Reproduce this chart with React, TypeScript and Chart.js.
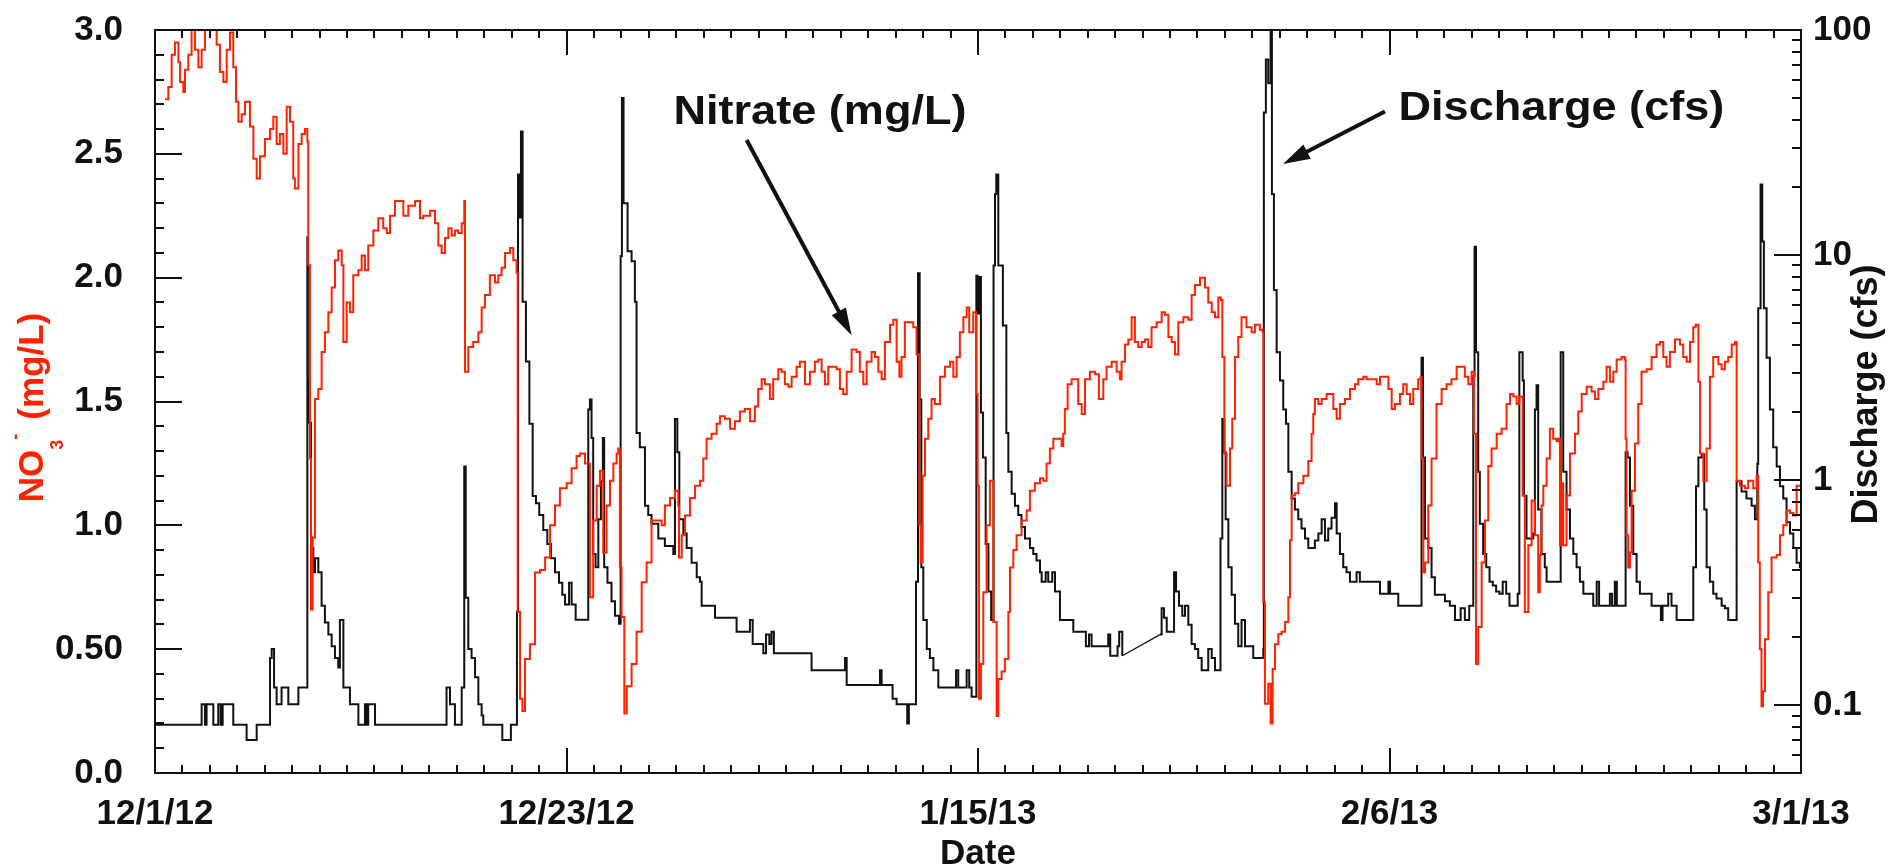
import React, { useEffect, useRef } from 'react';
import { Chart, registerables } from 'chart.js';

Chart.register(...registerables);

const FONT = "'Liberation Sans', Arial, Helvetica, sans-serif";
const RED = '#ff2200';
const INK = '#111111';

// x axis: days since 12/1/12
const X_TICK_DAYS = [0, 22.5, 45, 67.5, 90];
const X_TICK_LABELS = ['12/1/12', '12/23/12', '1/15/13', '2/6/13', '3/1/13'];
const NO3_TICK_VALUES = [0, 0.5, 1, 1.5, 2, 2.5, 3];
const NO3_TICK_LABELS = ['0.0', '0.50', '1.0', '1.5', '2.0', '2.5', '3.0'];
const Q_TICK_VALUES = [0.1, 1, 10, 100];
const Q_TICK_LABELS = ['0.1', '1', '10', '100'];

// Nitrate (mg/L): [day, value]
const nitrate: [number, number][] = [
  [0.55,2.72],[0.73,2.77],[0.91,2.90],[1.09,2.95],[1.28,2.87],[1.37,2.79],[1.55,2.75],[1.64,2.84],[1.82,2.90],[2.00,3.00],
  [2.19,2.92],[2.37,2.85],[2.55,2.92],[2.73,3.01],[2.92,3.03],[3.19,3.02],[3.37,2.94],[3.55,2.83],[3.74,2.79],[3.92,2.92],
  [4.10,2.99],[4.28,2.85],[4.43,2.71],[4.56,2.63],[4.74,2.66],[4.92,2.71],[5.19,2.61],[5.38,2.48],[5.56,2.40],[5.74,2.49],
  [6.01,2.56],[6.29,2.60],[6.47,2.65],[6.65,2.54],[6.83,2.58],[7.02,2.50],[7.20,2.69],[7.38,2.63],[7.56,2.40],[7.65,2.36],
  [7.84,2.54],[8.02,2.58],[8.20,2.60],[8.33,2.55],[8.38,2.05],[8.47,1.27],[8.53,0.66],[8.62,0.95],[8.75,1.51],[8.93,1.55],
  [9.11,1.70],[9.29,1.78],[9.48,1.86],[9.66,1.96],[9.84,2.07],[10.02,2.11],[10.21,2.05],[10.30,1.74],[10.48,1.90],[10.66,1.86],
  [10.84,2.01],[11.12,2.03],[11.30,2.09],[11.48,2.03],[11.66,2.13],[11.94,2.19],[12.21,2.24],[12.48,2.20],[12.67,2.18],[12.85,2.25],
  [13.12,2.31],[13.40,2.31],[13.58,2.25],[13.85,2.29],[14.22,2.31],[14.49,2.24],[14.67,2.25],[15.04,2.27],[15.31,2.22],[15.49,2.13],
  [15.67,2.10],[15.86,2.16],[16.04,2.20],[16.22,2.17],[16.40,2.19],[16.58,2.18],[16.77,2.22],[16.91,2.31],[16.95,1.62],[17.13,1.72],
  [17.40,1.74],[17.68,1.78],[17.86,1.88],[18.04,1.93],[18.31,2.01],[18.59,1.98],[18.77,2.01],[18.95,2.04],[19.14,2.10],[19.41,2.12],
  [19.59,2.07],[19.77,2.02],[19.83,0.65],[19.96,0.30],[20.09,0.25],[20.23,0.46],[20.50,0.52],[20.78,0.81],[21.05,0.82],[21.33,0.87],
  [21.60,1.00],[21.87,1.08],[22.14,1.15],[22.51,1.17],[22.78,1.23],[23.05,1.28],[23.23,1.29],[23.51,1.25],[23.69,1.25],[23.78,0.71],
  [23.96,1.02],[24.15,1.16],[24.33,1.22],[24.51,0.89],[24.69,1.08],[24.88,1.18],[25.06,1.25],[25.24,1.29],[25.33,1.31],[25.42,0.83],
  [25.51,0.63],[25.66,0.24],[25.79,0.35],[26.06,0.44],[26.33,0.57],[26.61,0.77],[26.88,0.85],[27.15,1.02],[27.43,1.02],[27.70,1.00],
  [27.88,1.08],[28.16,1.11],[28.43,1.14],[28.61,1.08],[28.65,0.87],[28.80,0.96],[28.98,1.04],[29.25,1.11],[29.53,1.16],[29.80,1.18],
  [29.98,1.27],[30.16,1.35],[30.43,1.37],[30.71,1.41],[30.89,1.44],[31.16,1.43],[31.44,1.39],[31.71,1.42],[31.98,1.46],[32.25,1.47],
  [32.53,1.42],[32.80,1.48],[32.98,1.55],[33.17,1.59],[33.35,1.57],[33.62,1.51],[33.80,1.59],[34.08,1.63],[34.26,1.62],[34.44,1.57],
  [34.63,1.56],[34.81,1.60],[35.08,1.64],[35.26,1.66],[35.54,1.57],[35.81,1.62],[36.08,1.66],[36.27,1.67],[36.45,1.62],[36.63,1.57],
  [36.81,1.64],[36.99,1.64],[37.27,1.63],[37.45,1.55],[37.63,1.53],[37.82,1.62],[38.09,1.71],[38.36,1.70],[38.54,1.62],[38.73,1.57],
  [38.91,1.66],[39.18,1.70],[39.37,1.68],[39.55,1.62],[39.73,1.59],[39.91,1.74],[40.19,1.81],[40.37,1.83],[40.55,1.66],[40.70,1.60],
  [40.82,1.68],[41.00,1.82],[41.28,1.82],[41.46,1.80],[41.64,1.69],[41.79,1.00],[41.86,0.85],[41.97,1.20],[42.10,1.35],[42.28,1.43],
  [42.46,1.51],[42.64,1.49],[42.92,1.60],[43.19,1.64],[43.47,1.66],[43.65,1.60],[43.83,1.68],[44.01,1.78],[44.20,1.84],[44.38,1.88],
  [44.52,1.78],[44.74,1.86],[44.89,1.53],[44.98,1.16],[45.05,0.30],[45.16,0.44],[45.29,0.73],[45.47,1.00],[45.65,1.18],[45.84,0.61],
  [46.02,0.23],[46.11,0.38],[46.29,0.41],[46.47,0.46],[46.66,0.65],[46.75,0.83],[46.93,0.90],[47.11,0.96],[47.38,1.02],[47.66,1.06],
  [47.84,1.14],[48.11,1.17],[48.39,1.19],[48.57,1.18],[48.75,1.25],[48.93,1.31],[49.12,1.35],[49.39,1.35],[49.57,1.32],[49.66,1.37],
  [49.75,1.47],[49.90,1.57],[50.12,1.59],[50.30,1.59],[50.48,1.49],[50.67,1.45],[50.85,1.59],[51.12,1.62],[51.40,1.61],[51.61,1.51],
  [51.76,1.51],[51.85,1.59],[52.03,1.64],[52.31,1.66],[52.58,1.62],[52.76,1.59],[52.85,1.66],[53.04,1.73],[53.22,1.75],[53.40,1.84],
  [53.58,1.74],[53.76,1.72],[53.95,1.74],[54.13,1.75],[54.31,1.72],[54.49,1.80],[54.77,1.82],[55.04,1.86],[55.22,1.85],[55.41,1.76],
  [55.59,1.74],[55.77,1.69],[55.95,1.82],[56.23,1.84],[56.50,1.83],[56.68,1.93],[56.86,1.97],[57.14,2.00],[57.41,1.96],[57.59,1.90],
  [57.78,1.86],[57.96,1.84],[58.14,1.92],[58.28,1.91],[58.36,1.68],[58.47,1.29],[58.59,1.16],[58.78,1.31],[58.90,1.43],[59.05,1.68],
  [59.23,1.76],[59.41,1.84],[59.68,1.80],[59.96,1.78],[60.14,1.81],[60.41,1.79],[60.56,1.78],[60.60,0.69],[60.69,0.28],[60.87,0.36],
  [61.00,0.20],[61.11,0.42],[61.24,0.52],[61.42,0.56],[61.60,0.57],[61.79,0.61],[61.97,0.71],[62.06,0.94],[62.15,1.12],[62.33,1.13],
  [62.51,1.17],[62.79,1.20],[63.06,1.26],[63.24,1.37],[63.33,1.45],[63.42,1.51],[63.61,1.49],[63.79,1.51],[64.06,1.53],[64.24,1.53],
  [64.43,1.47],[64.61,1.43],[64.79,1.49],[65.06,1.51],[65.34,1.55],[65.61,1.57],[65.79,1.59],[66.07,1.60],[66.25,1.59],[66.52,1.59],
  [66.80,1.57],[66.98,1.60],[67.25,1.60],[67.44,1.55],[67.62,1.47],[67.80,1.49],[68.07,1.53],[68.25,1.57],[68.44,1.53],[68.62,1.49],
  [68.80,1.55],[69.07,1.59],[69.20,1.60],[69.25,1.27],[69.35,0.81],[69.44,0.85],[69.62,1.08],[69.80,1.27],[70.07,1.49],[70.35,1.55],
  [70.62,1.57],[70.89,1.59],[71.17,1.64],[71.44,1.64],[71.62,1.60],[71.81,1.57],[71.99,1.62],[72.12,1.37],[72.23,0.44],[72.35,0.59],
  [72.54,0.85],[72.72,1.02],[72.90,1.24],[73.08,1.31],[73.36,1.37],[73.63,1.39],[73.90,1.49],[74.09,1.53],[74.27,1.52],[74.45,1.49],
  [74.60,1.52],[74.78,1.12],[74.90,0.65],[75.09,0.92],[75.27,1.10],[75.45,0.96],[75.63,0.73],[75.72,0.88],[75.81,1.08],[75.91,1.16],
  [76.09,1.27],[76.27,1.39],[76.45,1.35],[76.64,1.34],[76.73,1.35],[76.82,0.92],[76.91,1.17],[77.00,0.92],[77.09,0.92],[77.18,1.12],
  [77.37,1.29],[77.64,1.37],[77.82,1.46],[78.01,1.53],[78.28,1.56],[78.55,1.54],[78.74,1.51],[78.92,1.55],[79.19,1.58],[79.37,1.64],
  [79.55,1.58],[79.74,1.62],[79.92,1.67],[80.19,1.68],[80.37,1.67],[80.41,1.35],[80.46,0.96],[80.55,0.83],[80.65,0.89],[80.74,1.14],
  [80.92,1.33],[81.10,1.49],[81.28,1.62],[81.56,1.63],[81.83,1.68],[82.10,1.73],[82.29,1.74],[82.47,1.68],[82.65,1.64],[82.83,1.70],
  [83.11,1.75],[83.38,1.73],[83.56,1.68],[83.75,1.66],[83.93,1.74],[84.11,1.80],[84.24,1.81],[84.39,1.58],[84.48,1.29],[84.66,1.18],
  [84.84,1.31],[85.02,1.60],[85.20,1.68],[85.48,1.65],[85.66,1.63],[85.84,1.66],[86.02,1.68],[86.21,1.73],[86.39,1.74],[86.48,1.18],
  [86.66,1.16],[86.93,1.15],[87.11,1.18],[87.39,1.15],[87.57,1.20],[87.66,0.85],[87.75,0.50],[87.84,0.27],[87.92,0.33],[88.03,0.54],
  [88.21,0.73],[88.39,0.87],[88.67,0.88],[88.85,0.96],[89.03,1.00],[89.21,1.06],[89.40,1.05],[89.58,1.04],[89.76,1.16],[90.00,1.05],
];

// Discharge (cfs): [day, value] — record before the data gap
const dischargeBeforeGap: [number, number][] = [
  [0.00,0.082],[2.55,0.101],[2.73,0.082],[2.82,0.101],[3.19,0.082],[3.46,0.101],[3.59,0.082],[3.70,0.101],[4.28,0.082],[5.01,0.070],
  [5.56,0.082],[6.29,0.162],[6.38,0.178],[6.51,0.120],[6.65,0.101],[6.92,0.120],[7.29,0.101],[7.84,0.120],[8.33,12.0],[8.36,2.8],
  [8.44,1.8],[8.53,0.56],[8.57,0.50],[8.66,0.39],[8.75,0.45],[8.93,0.39],[9.11,0.277],[9.29,0.233],[9.48,0.206],[9.66,0.183],
  [9.84,0.162],[10.02,0.147],[10.11,0.239],[10.30,0.120],[10.66,0.101],[11.12,0.082],[11.48,0.101],[11.57,0.082],[11.66,0.101],[12.03,0.082],
  [15.94,0.120],[16.13,0.101],[16.40,0.082],[16.77,0.120],[16.91,1.15],[16.99,0.30],[17.13,0.178],[17.31,0.162],[17.50,0.133],[17.68,0.101],
  [17.86,0.090],[17.95,0.082],[18.99,0.070],[19.46,0.082],[19.79,0.26],[19.85,22.8],[19.92,14.7],[20.01,35.4],[20.10,6.2],[20.28,3.37],
  [20.47,1.78],[20.65,0.85],[20.83,0.79],[21.01,0.70],[21.23,0.60],[21.45,0.52],[21.65,0.45],[21.87,0.39],[22.09,0.35],[22.27,0.31],
  [22.42,0.28],[22.64,0.35],[22.78,0.28],[23.00,0.24],[23.69,2.06],[23.78,2.28],[23.87,1.54],[23.96,0.47],[24.09,0.41],[24.24,0.67],
  [24.38,0.99],[24.49,1.54],[24.56,0.41],[24.74,0.35],[24.96,0.29],[25.15,0.25],[25.37,0.23],[25.46,9.9],[25.53,49.9],[25.62,17.0],
  [25.84,10.4],[26.06,9.4],[26.24,6.2],[26.33,1.62],[26.51,1.40],[26.79,0.77],[26.97,0.70],[27.15,0.64],[27.52,0.55],[27.88,0.51],
  [28.34,0.47],[28.43,1.87],[28.56,1.33],[28.67,0.67],[28.89,0.58],[29.07,0.50],[29.34,0.43],[29.62,0.37],[29.80,0.354],[29.89,0.277],
  [30.62,0.245],[31.80,0.212],[32.53,0.239],[32.68,0.187],[33.26,0.170],[33.41,0.206],[33.59,0.187],[33.71,0.212],[33.84,0.170],[35.90,0.143],
  [37.73,0.162],[37.82,0.123],[39.64,0.143],[39.73,0.123],[40.33,0.107],[40.55,0.101],[41.13,0.083],[41.22,0.101],[41.61,0.354],[41.72,8.3],
  [41.81,2.28],[41.90,0.41],[42.01,0.239],[42.20,0.178],[42.37,0.162],[42.56,0.143],[42.83,0.120],[43.80,0.143],[43.92,0.120],[44.38,0.143],
  [44.52,0.120],[44.65,0.109],[44.91,8.1],[44.98,5.5],[45.09,8.0],[45.16,2.0],[45.27,1.26],[45.42,0.52],[45.57,0.32],[45.72,0.239],
  [45.85,9.0],[45.93,18.7],[46.00,22.8],[46.11,9.0],[46.36,4.87],[46.55,1.62],[46.66,1.09],[46.84,0.87],[47.02,0.77],[47.20,0.70],
  [47.38,0.62],[47.57,0.55],[47.84,0.50],[48.02,0.47],[48.20,0.44],[48.39,0.39],[48.48,0.354],[48.70,0.39],[48.84,0.354],[49.06,0.39],
  [49.21,0.32],[49.48,0.239],[50.21,0.212],[50.90,0.183],[51.07,0.206],[51.21,0.183],[52.12,0.206],[52.23,0.166],[52.63,0.183],[52.72,0.212],
  [52.89,0.166],
];

// straight line drawn across the missing discharge record
const dischargeGapBridge: [number, number][] = [[52.89,0.166],[54.95,0.206]];

const dischargeAfterGap: [number, number][] = [
  [54.95,0.206],[55.04,0.27],[55.17,0.245],[55.32,0.212],[55.72,0.39],[55.83,0.32],[55.99,0.277],[56.17,0.25],[56.32,0.277],[56.50,0.228],
  [56.68,0.187],[56.86,0.178],[57.04,0.162],[57.23,0.143],[57.59,0.178],[57.78,0.162],[57.96,0.143],[58.26,0.55],[58.36,1.87],[58.47,1.33],
  [58.54,0.67],[58.69,0.41],[58.87,0.31],[59.05,0.23],[59.23,0.183],[59.41,0.239],[59.60,0.183],[60.05,0.162],[60.60,0.178],[60.63,43],
  [60.74,74],[60.87,58],[61.00,100],[61.07,18.7],[61.18,7.0],[61.33,3.7],[61.51,2.77],[61.69,2.06],[61.84,1.78],[61.97,1.09],
  [62.15,0.83],[62.33,0.74],[62.51,0.67],[62.69,0.61],[62.88,0.55],[63.06,0.50],[63.42,0.54],[63.61,0.58],[63.79,0.67],[63.97,0.54],
  [64.15,0.61],[64.33,0.68],[64.52,0.79],[64.61,0.58],[64.79,0.47],[64.97,0.41],[65.15,0.39],[65.34,0.354],[65.70,0.39],[65.88,0.354],
  [66.98,0.313],[67.44,0.354],[67.53,0.313],[67.98,0.277],[69.25,3.5],[69.33,1.26],[69.44,0.55],[69.62,0.50],[69.80,0.37],[69.98,0.31],
  [70.53,0.29],[70.80,0.277],[71.08,0.239],[71.39,0.27],[71.62,0.239],[71.86,0.277],[72.08,2.9],[72.15,10.9],[72.23,3.7],[72.35,1.09],
  [72.44,0.64],[72.62,0.47],[72.79,0.41],[72.97,0.354],[73.15,0.34],[73.33,0.32],[73.51,0.313],[73.69,0.354],[73.88,0.313],[74.06,0.277],
  [74.51,0.313],[74.60,3.7],[74.78,2.77],[74.85,0.85],[74.99,0.55],[75.36,0.58],[75.45,2.06],[75.54,2.64],[75.63,0.74],[75.81,0.47],
  [75.99,0.41],[76.09,0.354],[76.86,3.7],[77.00,1.09],[77.18,0.74],[77.37,0.55],[77.55,0.47],[77.73,0.41],[77.91,0.354],[78.10,0.313],
  [78.64,0.277],[78.83,0.354],[78.96,0.277],[79.55,0.313],[79.67,0.277],[79.82,0.354],[79.93,0.277],[80.41,1.33],[80.52,1.26],[80.65,0.77],
  [80.83,0.47],[81.01,0.354],[81.19,0.313],[81.83,0.277],[82.34,0.239],[82.43,0.277],[82.74,0.313],[82.92,0.277],[83.20,0.239],[84.11,0.41],
  [84.26,0.94],[84.39,1.26],[84.57,1.30],[84.71,0.74],[84.84,0.41],[85.02,0.354],[85.20,0.313],[85.38,0.298],[85.66,0.277],[85.84,0.27],
  [86.02,0.239],[86.48,0.99],[86.75,0.89],[87.02,0.83],[87.30,0.77],[87.48,0.67],[87.61,1.18],[87.66,5.8],[87.79,20.6],[87.88,11.5],
  [87.97,5.8],[88.12,3.5],[88.30,2.06],[88.48,1.40],[88.67,1.15],[88.85,0.94],[89.03,0.83],[89.21,0.65],[89.40,0.58],[89.58,0.50],
  [89.76,0.43],[89.94,0.41],[90.00,0.41],
];

// Callout labels, anchored in data units (day, nitrate mg/L)
const CALLOUTS = [
  { text: 'Nitrate (mg/L)', day: 36.36, no3: 2.62, fromDay: 32.35, fromNo3: 2.556, toDay: 38.09, toNo3: 1.768 },
  { text: 'Discharge (cfs)', day: 76.9, no3: 2.637, fromDay: 67.25, fromNo3: 2.671, toDay: 61.68, toNo3: 2.459 },
];

const toXY = (arr: [number, number][]) => arr.map(([x, y]) => ({ x, y }));

function drawArrow(ctx: CanvasRenderingContext2D, x1: number, y1: number, x2: number, y2: number) {
  const dx = x2 - x1, dy = y2 - y1;
  const L = Math.hypot(dx, dy);
  const ux = dx / L, uy = dy / L;
  const head = 27, half = 8;
  const bx = x2 - ux * head, by = y2 - uy * head;
  ctx.lineWidth = 4;
  ctx.beginPath();
  ctx.moveTo(x1, y1);
  ctx.lineTo(bx + ux * 3, by + uy * 3);
  ctx.stroke();
  ctx.beginPath();
  ctx.moveTo(x2, y2);
  ctx.lineTo(bx - uy * half, by + ux * half);
  ctx.lineTo(bx + uy * half, by - ux * half);
  ctx.closePath();
  ctx.fill();
}

const decorPlugin = {
  id: 'decor',
  afterDatasetsDraw(chart: any) {
    const { ctx, chartArea: a, scales } = chart;
    const xs = scales.x, yl = scales.y, yr = scales.y2;
    ctx.save();
    ctx.strokeStyle = INK;
    ctx.fillStyle = INK;
    ctx.lineWidth = 2;
    ctx.lineCap = 'butt';
    // tick marks pointing inward
    ctx.beginPath();
    for (let i = 0; i <= 60; i++) {
      const px = Math.round(xs.getPixelForValue(i * 1.5));
      const len = i % 15 === 0 ? 25 : 8;
      ctx.moveTo(px, a.bottom); ctx.lineTo(px, a.bottom - len);
      ctx.moveTo(px, a.top); ctx.lineTo(px, a.top + len);
    }
    for (let i = 0; i <= 30; i++) {
      const py = Math.round(yl.getPixelForValue(i * 0.1));
      const len = i % 5 === 0 ? 27 : 9;
      ctx.moveTo(a.left, py); ctx.lineTo(a.left + len, py);
    }
    for (const dec of [0.01, 0.1, 1, 10, 100]) {
      for (let m = 1; m <= 9; m++) {
        const v = dec * m;
        if (v < 0.0501 || v > 100.01) continue;
        const py = Math.round(yr.getPixelForValue(v));
        const len = m === 1 ? 27 : 9;
        ctx.moveTo(a.right, py); ctx.lineTo(a.right - len, py);
      }
    }
    ctx.stroke();
    ctx.strokeRect(a.left, a.top, a.right - a.left, a.bottom - a.top);

    // callouts
    for (const c of CALLOUTS) {
      const tx = xs.getPixelForValue(c.day);
      const ty = yl.getPixelForValue(c.no3);
      ctx.save();
      ctx.translate(tx, ty);
      ctx.scale(1.1, 1);
      ctx.font = `bold 41px ${FONT}`;
      ctx.textAlign = 'center';
      ctx.textBaseline = 'alphabetic';
      ctx.fillText(c.text, 0, 0);
      ctx.restore();
      drawArrow(ctx, xs.getPixelForValue(c.fromDay), yl.getPixelForValue(c.fromNo3),
        xs.getPixelForValue(c.toDay), yl.getPixelForValue(c.toNo3));
    }

    // left axis title: NO3- (mg/L), red, rotated
    const cy = (a.top + a.bottom) / 2 + 6;
    ctx.save();
    ctx.translate(43, cy);
    ctx.rotate(-Math.PI / 2);
    ctx.fillStyle = RED;
    ctx.textAlign = 'left';
    ctx.textBaseline = 'alphabetic';
    const big = `bold 35px ${FONT}`;
    const small = `bold 18px ${FONT}`;
    ctx.font = big;
    const wNO = ctx.measureText('NO').width;
    const wRest = ctx.measureText('(mg/L)').width;
    ctx.font = small;
    const w3 = ctx.measureText('3').width;
    const wM = ctx.measureText('-').width;
    const gap = 14;
    const total = wNO + w3 + wM + gap + wRest;
    let x = -total / 2;
    ctx.font = big;
    ctx.fillText('NO', x, 0);
    x += wNO;
    ctx.font = small;
    ctx.fillText('3', x, 20);
    ctx.fillText('-', x + w3, -22);
    x += w3 + wM + gap;
    ctx.font = big;
    ctx.fillText('(mg/L)', x, 0);
    ctx.restore();

    // right axis title, reads bottom to top
    ctx.save();
    ctx.translate(1877, (a.top + a.bottom) / 2 - 7);
    ctx.rotate(-Math.PI / 2);
    ctx.fillStyle = INK;
    ctx.font = `bold 36px ${FONT}`;
    ctx.textAlign = 'center';
    ctx.textBaseline = 'alphabetic';
    ctx.fillText('Discharge (cfs)', 0, 0);
    ctx.restore();

    ctx.restore();
  },
};

const fixVertical = (w: number) => (s: any) => {
  s.width = w;
  s.paddingTop = 0;
  s.paddingBottom = 0;
};

export default function App() {
  const ref = useRef<HTMLCanvasElement>(null);

  useEffect(() => {
    const canvas = ref.current;
    if (!canvas) return;
    const tickFont = { family: FONT, size: 35, weight: 'bold' as const };
    const chart = new Chart(canvas, {
      type: 'line',
      data: {
        datasets: [
          {
            label: 'Nitrate (mg/L)',
            data: toXY(nitrate),
            yAxisID: 'y',
            borderColor: RED,
            borderWidth: 2,
            pointRadius: 0,
            stepped: 'before',
            fill: false,
          },
          {
            label: 'Discharge (cfs)',
            data: [...toXY(dischargeBeforeGap), { x: 53.9, y: null as any }, ...toXY(dischargeAfterGap)],
            yAxisID: 'y2',
            borderColor: INK,
            borderWidth: 2,
            pointRadius: 0,
            stepped: 'before',
            spanGaps: false,
            fill: false,
          },
          {
            label: 'Discharge gap',
            data: toXY(dischargeGapBridge),
            yAxisID: 'y2',
            borderColor: INK,
            borderWidth: 1.3,
            pointRadius: 0,
            fill: false,
          },
        ],
      },
      options: {
        animation: false,
        responsive: false,
        devicePixelRatio: 1,
        events: [],
        layout: { padding: { top: 30, left: 0, right: 0, bottom: 0 } },
        plugins: { legend: { display: false }, tooltip: { enabled: false } },
        scales: {
          x: {
            type: 'linear',
            position: 'bottom',
            min: 0,
            max: 90,
            grid: { display: false, drawTicks: false },
            border: { display: false },
            afterBuildTicks: (s: any) => { s.ticks = X_TICK_DAYS.map((v) => ({ value: v })); },
            ticks: {
              autoSkip: false,
              maxRotation: 0,
              padding: 20,
              color: INK,
              font: tickFont,
              callback: (_v: any, i: number) => X_TICK_LABELS[i],
            },
            title: {
              display: true,
              text: 'Date',
              color: INK,
              font: { family: FONT, size: 35, weight: 'bold', lineHeight: 0.8 },
              padding: { top: 0, bottom: 0 },
            },
            afterFit: (s: any) => { s.height = 95; s.paddingLeft = 0; s.paddingRight = 0; },
          },
          y: {
            type: 'linear',
            position: 'left',
            min: 0,
            max: 3,
            grid: { display: false, drawTicks: false },
            border: { display: false },
            afterBuildTicks: (s: any) => { s.ticks = NO3_TICK_VALUES.map((v) => ({ value: v })); },
            ticks: {
              padding: 32,
              color: INK,
              font: tickFont,
              callback: (_v: any, i: number) => NO3_TICK_LABELS[i],
            },
            afterFit: fixVertical(155),
          },
          y2: {
            type: 'logarithmic',
            position: 'right',
            min: 0.05,
            max: 100,
            grid: { display: false, drawTicks: false },
            border: { display: false },
            afterBuildTicks: (s: any) => { s.ticks = Q_TICK_VALUES.map((v) => ({ value: v })); },
            ticks: {
              padding: 12,
              color: INK,
              font: tickFont,
              callback: (_v: any, i: number) => Q_TICK_LABELS[i],
            },
            afterFit: fixVertical(103),
          },
        },
      },
      plugins: [decorPlugin],
    });
    return () => chart.destroy();
  }, []);

  return (
    <div style={{ position: 'absolute', left: 0, top: 0, width: 1904, height: 868, background: '#fff' }}>
      <canvas ref={ref} width={1904} height={868} style={{ display: 'block', width: 1904, height: 868 }} />
    </div>
  );
}
